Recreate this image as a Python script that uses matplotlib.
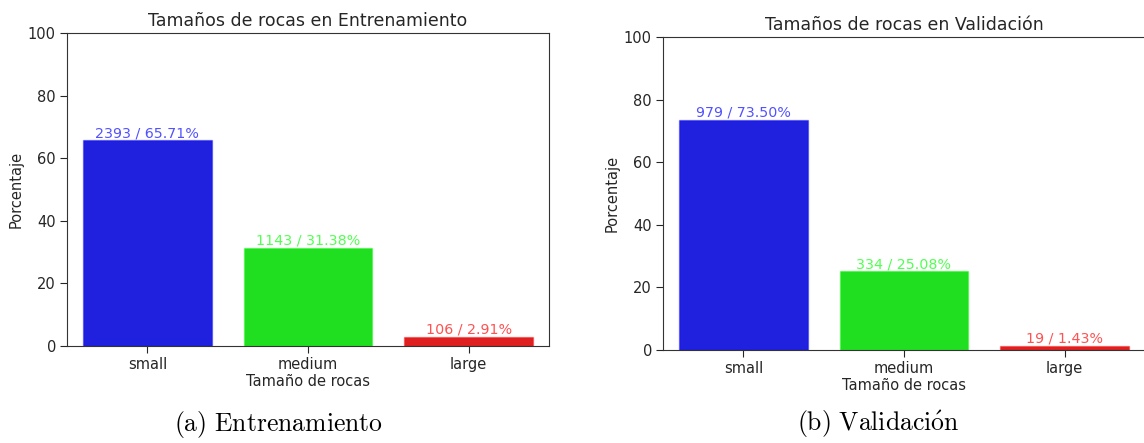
import matplotlib
matplotlib.use("Agg")
import matplotlib.pyplot as plt
from matplotlib.colors import to_rgba

plt.rcParams["mathtext.fontset"] = "cm"

categories = ["small", "medium", "large"]
train_counts = [2393, 1143, 106]
train_pct = [65.71, 31.38, 2.91]
val_counts = [979, 334, 19]
val_pct = [73.50, 25.08, 1.43]

bar_colors = ["#2020df", "#20df20", "#df2020"]
label_colors = ["blue", "lime", "red"]

fig = plt.figure(figsize=(11.44, 4.43), dpi=100)
ax_train = fig.add_axes([67 / 1144, 1 - 346 / 443, 482 / 1144, 313 / 443])
ax_val = fig.add_axes([663 / 1144, 1 - 350 / 443, 482 / 1144, 313 / 443])

text_color = "#262626"
fs = 10.5


def draw_panel(ax, counts, pct, title):
    x = list(range(len(categories)))
    ax.bar(x, pct, width=0.8, color=bar_colors,
           edgecolor=[to_rgba(c, 0.35) for c in label_colors], linewidth=1.0)
    for xi, c, p, col in zip(x, counts, pct, label_colors):
        ax.text(xi, p, f"{c} / {p:.2f}%", ha="center", va="bottom",
                color=col, alpha=0.68, fontsize=10.3)
    ax.set_xlim(-0.5, 2.5)
    ax.set_ylim(0, 100)
    ax.set_xticks(x)
    ax.set_xticklabels(categories)
    ax.set_yticks([0, 20, 40, 60, 80, 100])
    ax.set_title(title, fontsize=12.5, color=text_color, pad=5)
    ax.set_xlabel("Tamaño de rocas", fontsize=fs, color=text_color, labelpad=1)
    ax.set_ylabel("Porcentaje", fontsize=fs, color=text_color, labelpad=3)
    ax.tick_params(labelsize=fs, colors=text_color, length=5, pad=3)
    for sp in ax.spines.values():
        sp.set_color("#333333")


draw_panel(ax_train, train_counts, train_pct, "Tamaños de rocas en Entrenamiento")
draw_panel(ax_val, val_counts, val_pct, "Tamaños de rocas en Validación")

fig.text(278 / 1144, 1 - 424 / 443, r"$\mathrm{(a)\ Entrenamiento}$",
         ha="center", va="center", fontsize=18.5)
fig.text(878 / 1144, 1 - 424 / 443, r"$\mathrm{(b)\ Validaci\acute{o}n}$",
         ha="center", va="center", fontsize=18.5)

fig.savefig("out.png", dpi=100)
